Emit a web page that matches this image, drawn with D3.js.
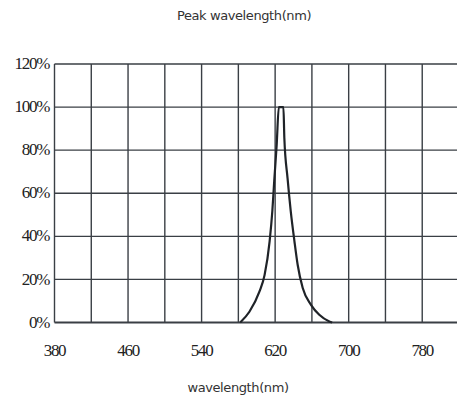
<!DOCTYPE html>
<html>
<head>
<meta charset="utf-8">
<script src="https://cdn.jsdelivr.net/npm/d3@7"></script>
<style>
  html, body { margin: 0; padding: 0; background: #fff; }
  svg { display: block; }
  .tick-label { font-family: "Liberation Serif", serif; font-size: 17px; fill: #222; letter-spacing: -1.3px; }
  .title { font-family: "DejaVu Sans", sans-serif; font-size: 13px; fill: #333; letter-spacing: -0.4px; }
</style>
</head>
<body>
<div id="chart"></div>
<script>
"use strict";

// spectrum (nm, relative intensity)
var wavelengths = [582, 592, 603, 608.5, 614, 617, 619, 621.7, 624, 629, 630, 633.5, 637, 641, 644.5, 650, 659, 668, 679, 682];
var intensity   = [0, 0.05, 0.144, 0.22, 0.377, 0.52, 0.656, 0.826, 1.0, 1.0, 0.858, 0.67, 0.516, 0.377, 0.268, 0.16, 0.082, 0.036, 0.005, 0];

var xTicks = [380, 460, 540, 620, 700, 780];
var yTicks = [0, 0.2, 0.4, 0.6, 0.8, 1.0, 1.2];
var xGrid = d3.range(380, 821, 40);

var width = 457;
var height = 400;

var x = d3.scaleLinear().domain([380, 820]).range([54.5, 459]);
var y = d3.scaleLinear().domain([0, 1.2]).range([322.5, 64]);

var svg = d3.select("#chart").append("svg")
  .attr("width", width)
  .attr("height", height);

// grid
svg.append("g")
  .selectAll("line")
  .data(xGrid)
  .enter().append("line")
  .attr("x1", d => x(d)).attr("x2", d => x(d))
  .attr("y1", y(1.2)).attr("y2", y(0))
  .attr("stroke", "#3a3f45")
  .attr("stroke-width", 1.4);

svg.append("g")
  .selectAll("line")
  .data(yTicks)
  .enter().append("line")
  .attr("x1", x(380)).attr("x2", x(820))
  .attr("y1", d => y(d)).attr("y2", d => y(d))
  .attr("stroke", "#3a3f45")
  .attr("stroke-width", d => d == 0 ? 2 : 1.4);

// y labels
svg.append("g")
  .selectAll("text")
  .data(yTicks)
  .enter().append("text")
  .attr("class", "tick-label")
  .attr("x", 49)
  .attr("y", d => y(d))
  .attr("dy", "0.3em")
  .attr("text-anchor", "end")
  .text(d => Math.round(d * 100) + "%");

// x labels
svg.append("g")
  .selectAll("text")
  .data(xTicks)
  .enter().append("text")
  .attr("class", "tick-label")
  .attr("x", d => x(d))
  .attr("y", 351)
  .attr("dy", "0.3em")
  .attr("text-anchor", "middle")
  .text(d => d);

// curve
var line = d3.line()
  .x((d, i) => x(wavelengths[i]))
  .y(d => y(d))
  .curve(d3.curveMonotoneX);

svg.append("path")
  .datum(intensity)
  .attr("d", line)
  .attr("fill", "none")
  .attr("stroke", "#1f2328")
  .attr("stroke-width", 2.2)
  .attr("stroke-linejoin", "round");

svg.append("text")
  .attr("class", "title")
  .attr("x", 244)
  .attr("y", 20)
  .attr("text-anchor", "middle")
  .text("Peak wavelength(nm)");

svg.append("text")
  .attr("class", "title")
  .attr("x", 238)
  .attr("y", 392)
  .attr("text-anchor", "middle")
  .text("wavelength(nm)");
</script>
</body>
</html>
